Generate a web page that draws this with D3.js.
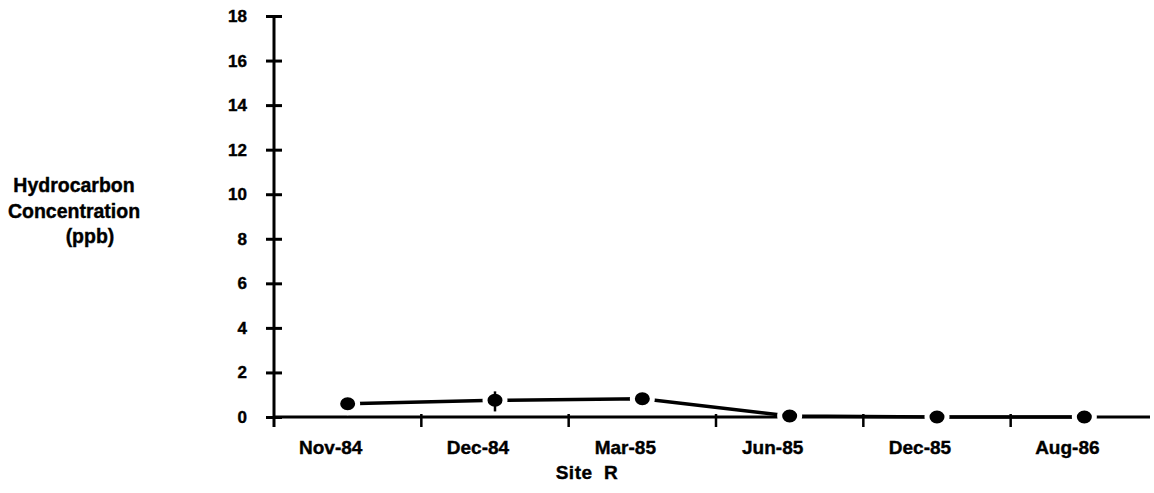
<!DOCTYPE html>
<html>
<head>
<meta charset="utf-8">
<script src="https://cdn.jsdelivr.net/npm/d3@7"></script>
<style>
  body { margin: 0; background: #fff; }
  svg { display: block; font-family: "Liberation Sans", Arial, sans-serif; font-weight: bold; }
</style>
</head>
<body>
<svg id="chart" width="1154" height="493"></svg>
<script>
// data
var categories = ["Nov-84", "Dec-84", "Mar-85", "Jun-85", "Dec-85", "Aug-86"];
var values = [0.6, 0.75, 0.82, 0.05, 0.0, 0.0];
// error bar only visible on Dec-84
var errLow = [null, 0.25, null, null, null, null];
var errHigh = [null, 1.15, null, null, null, null];
var yTicks = [0, 2, 4, 6, 8, 10, 12, 14, 16, 18];
var yLabelLines = ["Hydrocarbon", "Concentration", "(ppb)"];
var xTitle = "Site  R";

var svg = d3.select("#chart");

var x = d3.scaleBand()
  .domain(categories)
  .range([274, 1158])
  .padding(0);

var y = d3.scaleLinear()
  .domain([0, 18])
  .range([417, 16]);

var data = categories.map(function(c, i) {
  return { cat: c, v: values[i], lo: errLow[i], hi: errHigh[i] };
});

// x axis line
svg.append("line")
  .attr("x1", x.range()[0]).attr("x2", 1150)
  .attr("y1", y(0)).attr("y2", y(0))
  .attr("stroke", "#000").attr("stroke-width", 3);

// x ticks at band boundaries
svg.append("g")
  .selectAll("line")
  .data(categories.slice(1))
  .enter().append("line")
    .attr("x1", function(d) { return x(d); })
    .attr("x2", function(d) { return x(d); })
    .attr("y1", y(0) - 3)
    .attr("y2", y(0) + 10)
    .attr("stroke", "#000").attr("stroke-width", 2.5);

// x tick labels (sit a bit left of the band centre in the original)
svg.append("g")
  .selectAll("text")
  .data(categories)
  .enter().append("text")
    .attr("x", function(d) { return x(d) + x.bandwidth() / 2 - 17; })
    .attr("y", 454)
    .attr("text-anchor", "middle")
    .attr("font-size", 19)
    .attr("stroke", "#000").attr("stroke-width", 0.4)
    .text(function(d) { return d; });

// y axis
var yAxis = d3.axisLeft(y)
  .tickValues(yTicks)
  .tickSize(0)
  .tickPadding(27);

var ga = svg.append("g")
  .attr("transform", "translate(274,0)")
  .call(yAxis);
ga.select(".domain").remove();
ga.selectAll("text")
  .attr("font-size", 17)
  .attr("font-family", "Liberation Sans, Arial, sans-serif")
  .attr("font-weight", "bold")
  .attr("fill", "#000")
  .attr("stroke", "#000").attr("stroke-width", 0.4);
ga.selectAll(".tick line").remove();
ga.selectAll(".tick").append("line")
  .attr("x1", -8).attr("x2", 8)
  .attr("stroke", "#000").attr("stroke-width", 3);

svg.append("line")
  .attr("x1", 274).attr("x2", 274)
  .attr("y1", y(18)).attr("y2", y(0) + 10)
  .attr("stroke", "#000").attr("stroke-width", 3);

// y label
svg.append("g")
  .selectAll("text")
  .data(yLabelLines)
  .enter().append("text")
    .attr("x", function(d, i) { return i === 2 ? 90 : 74; })
    .attr("y", function(d, i) { return 192 + i * 25.5; })
    .attr("text-anchor", "middle")
    .attr("font-size", 19.5)
    .attr("stroke", "#000").attr("stroke-width", 0.4)
    .text(function(d) { return d; });

// x title
svg.append("text")
  .attr("x", 587)
  .attr("y", 479)
  .attr("text-anchor", "middle")
  .attr("font-size", 19)
  .attr("letter-spacing", 0.5)
  .attr("stroke", "#000").attr("stroke-width", 0.4)
  .style("white-space", "pre")
  .text(xTitle);

var cx = function(d) { return x(d.cat) + x.bandwidth() / 2; };

// data line
var line = d3.line()
  .x(cx)
  .y(function(d) { return y(d.v); });

svg.append("path")
  .datum(data)
  .attr("d", line)
  .attr("fill", "none")
  .attr("stroke", "#000")
  .attr("stroke-width", 3.5);

// markers with white halo, like the gaps in the scan
svg.append("g")
  .selectAll("ellipse")
  .data(data)
  .enter().append("ellipse")
    .attr("cx", cx)
    .attr("cy", function(d) { return y(d.v); })
    .attr("rx", 10)
    .attr("ry", 9)
    .attr("fill", "#000")
    .attr("stroke", "#fff")
    .attr("stroke-width", 5);

// error bars, drawn over the markers
svg.append("g")
  .selectAll("line")
  .data(data.filter(function(d) { return d.hi != null; }))
  .enter().append("line")
    .attr("x1", cx).attr("x2", cx)
    .attr("y1", function(d) { return y(d.hi); })
    .attr("y2", function(d) { return y(d.lo); })
    .attr("stroke", "#000").attr("stroke-width", 2.5);
</script>
</body>
</html>
